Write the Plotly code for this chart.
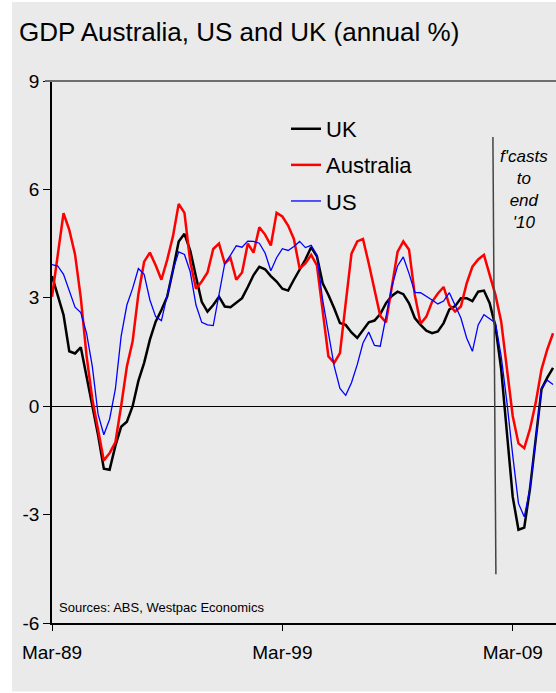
import plotly.graph_objects as go

months = ["Mar", "Jun", "Sep", "Dec"]
quarters = [f"{m}-{y % 100:02d}" for y in range(1989, 2011) for m in months]

tick_labels = ["Mar-89", "Mar-99", "Mar-09"]
y_tick_values = [-6, -3, 0, 3, 6, 9]
y_tick_labels = ["-6", "-3", "0", "3", "6", "9"]

uk = [3.6, 3.08, 2.53, 1.52, 1.46, 1.63, 0.83, -0.04, -0.8, -1.73,
      -1.76, -1.1, -0.57, -0.43, 0.0, 0.7, 1.2, 1.84, 2.34, 2.66,
      3.03, 3.76, 4.56, 4.77, 4.31, 3.58, 2.89, 2.62, 2.8, 3.03,
      2.76, 2.74, 2.87, 2.99, 3.3, 3.63, 3.86, 3.79, 3.6, 3.45,
      3.25, 3.2, 3.5, 3.78, 4.06, 4.4, 4.15, 3.4, 3.08, 2.71,
      2.3, 2.25, 2.04, 1.89, 2.09, 2.32, 2.37, 2.55, 2.85, 3.05,
      3.17, 3.1, 2.85, 2.44, 2.25, 2.09, 2.02, 2.07, 2.3, 2.68,
      2.77, 2.99, 2.99, 2.91, 3.17, 3.2, 2.85, 2.21, 1.02, -0.72,
      -2.51, -3.42, -3.36, -2.28, -0.82, 0.47, 0.79, 1.06]

australia = [3.03, 4.2, 5.34, 4.88, 4.2, 3.0, 1.4, 0.2, -0.7, -1.5,
             -1.3, -1.0, 0.0, 1.1, 1.8, 3.1, 4.0, 4.25, 3.9, 3.5,
             4.05, 4.7, 5.6, 5.35, 4.0, 3.25, 3.45, 3.7, 4.35, 4.5,
             3.95, 4.1, 3.5, 3.7, 4.5, 4.25, 4.95, 4.75, 4.45, 5.35,
             5.25, 5.0, 4.63, 3.81, 3.95, 4.19, 3.9, 2.57, 1.38, 1.2,
             1.47, 2.85, 4.22, 4.56, 4.63, 3.95, 3.21, 2.5, 2.32, 3.3,
             4.27, 4.56, 4.33, 3.08, 2.28, 2.48, 2.89, 3.12, 3.3, 2.8,
             2.62, 2.76, 3.4, 3.86, 4.06, 4.19, 3.67, 3.08, 2.34, 1.02,
             -0.27, -1.03, -1.16, -0.63, 0.1, 1.02, 1.57, 2.02]

us = [3.92, 3.88, 3.65, 3.2, 2.74, 2.59, 2.02, 1.1, -0.22, -0.79,
      -0.36, 0.47, 1.93, 2.8, 3.26, 3.81, 3.65, 2.94, 2.48, 2.37,
      3.08, 3.76, 4.27, 4.2, 3.72, 2.8, 2.32, 2.25, 2.23, 3.08,
      3.95, 4.18, 4.44, 4.4, 4.57, 4.56, 4.51, 4.24, 3.75, 4.11,
      4.36, 4.31, 4.42, 4.56, 4.39, 4.45, 4.18, 2.94, 2.02, 1.11,
      0.49, 0.3, 0.65, 1.15, 1.75, 2.05, 1.68, 1.66, 2.48, 3.3,
      3.88, 4.13, 3.67, 3.15, 3.14, 3.05, 2.94, 2.83, 2.91, 3.14,
      2.8, 2.44, 1.89, 1.52, 2.25, 2.53, 2.42, 2.3, 1.38, 0.1,
      -1.36, -2.69, -3.06, -2.28, -0.91, 0.51, 0.72, 0.6]

FONT = "Liberation Sans, Arial, sans-serif"
BG = "#eaeaea"
W, H = 556, 693
ML, MR, MT, MB = 52, 0, 81, 69.5
PW = W - ML - MR
PH = H - MT - MB

fig = go.Figure()
fig.add_trace(go.Scatter(x=quarters, y=uk, name="UK", mode="lines",
                         line=dict(color="#000000", width=2.5)))
fig.add_trace(go.Scatter(x=quarters, y=australia, name="Australia", mode="lines",
                         line=dict(color="#ff0000", width=2.5)))
fig.add_trace(go.Scatter(x=quarters, y=us, name="US", mode="lines",
                         line=dict(color="#0000ff", width=1.3)))

def px_x(p):
    return (p - ML) / PW

def px_y(p):
    return (H - MB - p) / PH

shapes = [
    dict(type="rect", xref="paper", yref="paper", layer="below",
         x0=px_x(12), x1=px_x(W + 5), y0=px_y(692), y1=px_y(2),
         fillcolor=BG, line=dict(width=0)),
    dict(type="line", xref="paper", yref="paper",
         x0=px_x(45), x1=1.01, y0=1, y1=1,
         line=dict(color="#6e6e6e", width=2)),
    dict(type="line", xref="x", yref="y",
         x0=76.56, x1=77.08, y0=7.45, y1=-4.65,
         line=dict(color="#444444", width=1.5)),
]

annotations = [
    dict(xref="x", yref="y", x=82, y=6.0,
         text="<i>f'casts<br>to<br>end<br>'10</i>", showarrow=False,
         font=dict(family=FONT, size=17, color="#000000"),
         xanchor="center", yanchor="middle", align="center"),
    dict(xref="paper", yref="paper", x=px_x(57), y=px_y(608),
         text="Sources: ABS, Westpac Economics", showarrow=False,
         font=dict(family=FONT, size=13, color="#000000"),
         xanchor="left", yanchor="middle"),
]

fig.update_layout(
    width=W, height=H,
    margin=dict(l=ML, r=MR, t=MT, b=MB, pad=0),
    paper_bgcolor="#ffffff",
    plot_bgcolor=BG,
    font=dict(family=FONT, color="#000000"),
    title=dict(text="GDP Australia, US and UK (annual %)",
               font=dict(family=FONT, size=26, color="#000000"),
               x=19 / W, xanchor="left", xref="container",
               y=1 - 32 / H, yanchor="middle"),
    showlegend=True,
    legend=dict(x=px_x(286), y=px_y(108), xanchor="left", yanchor="top",
                bgcolor="rgba(0,0,0,0)", borderwidth=0,
                font=dict(family=FONT, size=22, color="#000000"),
                tracegroupgap=4.5, traceorder="grouped", itemwidth=30),
    shapes=shapes,
    annotations=annotations,
)
for t, g in zip(fig.data, ["a", "b", "c"]):
    t.legendgroup = g

fig.update_xaxes(type="category", range=[0, PW / 5.759],
                 tickmode="array", tickvals=tick_labels, ticktext=tick_labels,
                 showgrid=False, zeroline=False,
                 showline=True, linecolor="#000000", linewidth=1.5,
                 ticks="outside", ticklen=6, tickcolor="#000000", tickwidth=1,
                 ticklabelstandoff=5,
                 tickfont=dict(family=FONT, size=19, color="#000000"))
fig.update_yaxes(range=[-6, 9], tickmode="array",
                 tickvals=y_tick_values, ticktext=y_tick_labels,
                 showgrid=False, zeroline=True, zerolinecolor="#000000",
                 zerolinewidth=1,
                 showline=True, linecolor="#000000", linewidth=1.5,
                 ticks="outside", ticklen=7, tickcolor="#000000", tickwidth=1,
                 tickfont=dict(family=FONT, size=19, color="#000000"))

fig.write_html("out.html")
